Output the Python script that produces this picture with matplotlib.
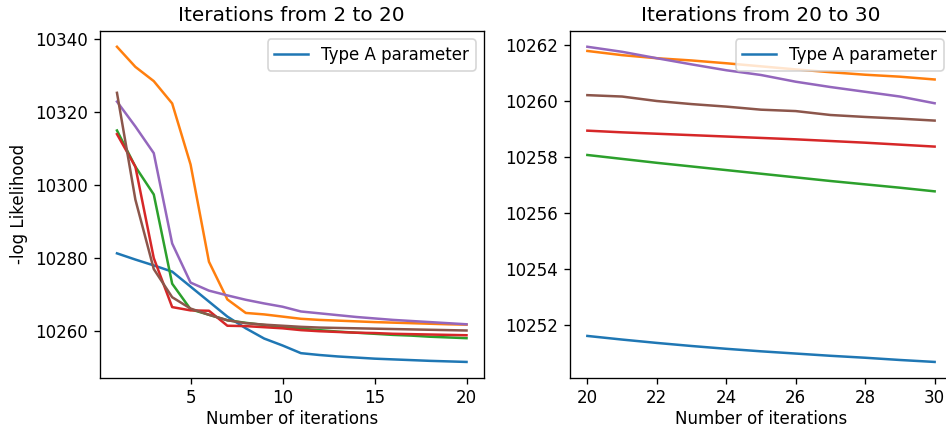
import numpy as np
import matplotlib
matplotlib.use("Agg")
import matplotlib.pyplot as plt

# iterations
it_left = list(range(1, 21))
it_right = list(range(20, 31))

# -log likelihood, iterations 1..20
left_a = [10281.3, 10279.6, 10278.0, 10276.3, 10272.2, 10268.1, 10264.0, 10260.8, 10258.0, 10256.1,
          10254.0, 10253.5, 10253.1, 10252.8, 10252.5, 10252.3, 10252.1, 10251.9, 10251.75, 10251.6]
left_b = [10337.8, 10332.3, 10328.4, 10322.3, 10305.6, 10279.0, 10268.7, 10265.0, 10264.6, 10264.0,
          10263.4, 10263.1, 10262.9, 10262.7, 10262.5, 10262.35, 10262.2, 10262.05, 10261.9, 10261.8]
left_c = [10314.9, 10305.0, 10297.4, 10273.0, 10266.0, 10264.5, 10263.0, 10262.3, 10261.7, 10261.2,
          10260.7, 10260.3, 10259.9, 10259.6, 10259.3, 10259.0, 10258.8, 10258.5, 10258.3, 10258.1]
left_d = [10313.9, 10305.0, 10280.0, 10266.6, 10265.7, 10265.6, 10261.5, 10261.4, 10261.1, 10260.8,
          10260.3, 10260.0, 10259.8, 10259.6, 10259.5, 10259.3, 10259.2, 10259.1, 10259.0, 10258.9]
left_e = [10322.8, 10316.0, 10308.7, 10284.0, 10273.3, 10271.1, 10269.8, 10268.6, 10267.6, 10266.7,
          10265.4, 10264.9, 10264.4, 10263.9, 10263.5, 10263.1, 10262.8, 10262.5, 10262.2, 10261.9]
left_f = [10325.2, 10296.0, 10277.0, 10269.3, 10266.2, 10264.5, 10263.0, 10262.2, 10261.8, 10261.5,
          10261.2, 10261.0, 10260.9, 10260.8, 10260.7, 10260.6, 10260.5, 10260.4, 10260.3, 10260.2]

# -log likelihood, iterations 20..30
right_a = [10251.6, 10251.47, 10251.35, 10251.24, 10251.14, 10251.05, 10250.97, 10250.89, 10250.82, 10250.74, 10250.67]
right_b = [10261.79, 10261.64, 10261.53, 10261.45, 10261.35, 10261.24, 10261.13, 10261.03, 10260.94, 10260.87, 10260.77]
right_c = [10258.07, 10257.93, 10257.79, 10257.66, 10257.53, 10257.40, 10257.27, 10257.14, 10257.02, 10256.90, 10256.77]
right_d = [10258.94, 10258.88, 10258.83, 10258.78, 10258.73, 10258.68, 10258.63, 10258.57, 10258.51, 10258.44, 10258.37]
right_e = [10261.94, 10261.76, 10261.53, 10261.31, 10261.10, 10260.93, 10260.69, 10260.50, 10260.33, 10260.16, 10259.92]
right_f = [10260.21, 10260.16, 10260.00, 10259.89, 10259.80, 10259.69, 10259.64, 10259.50, 10259.43, 10259.37, 10259.30]

fig = plt.figure(figsize=(946 / 120, 430 / 120), dpi=120)
ax1 = fig.add_axes([99.5 / 946, 52.3 / 430, 384.5 / 946, 346.7 / 430])
ax2 = fig.add_axes([570 / 946, 52.3 / 430, 382 / 946, 346.7 / 430])

# left panel
ax1.plot(it_left, left_a, label="Type A parameter")
for s in [left_b, left_c, left_d, left_e, left_f]:
    ax1.plot(it_left, s)
ax1.set_title("Iterations from 2 to 20")
ax1.set_xlabel("Number of iterations", labelpad=1.5)
ax1.set_ylabel("-log Likelihood")
ax1.legend(loc="upper right")

# right panel
ax2.plot(it_right, right_a, label="Type A parameter")
for s in [right_b, right_c, right_d, right_e, right_f]:
    ax2.plot(it_right, s)
ax2.set_title("Iterations from 20 to 30")
ax2.set_xlabel("Number of iterations", labelpad=1.5)
ax2.set_xticks(np.arange(20, 31, 2))
ax2.legend(loc="upper right")

fig.savefig("out.png", dpi=120)
